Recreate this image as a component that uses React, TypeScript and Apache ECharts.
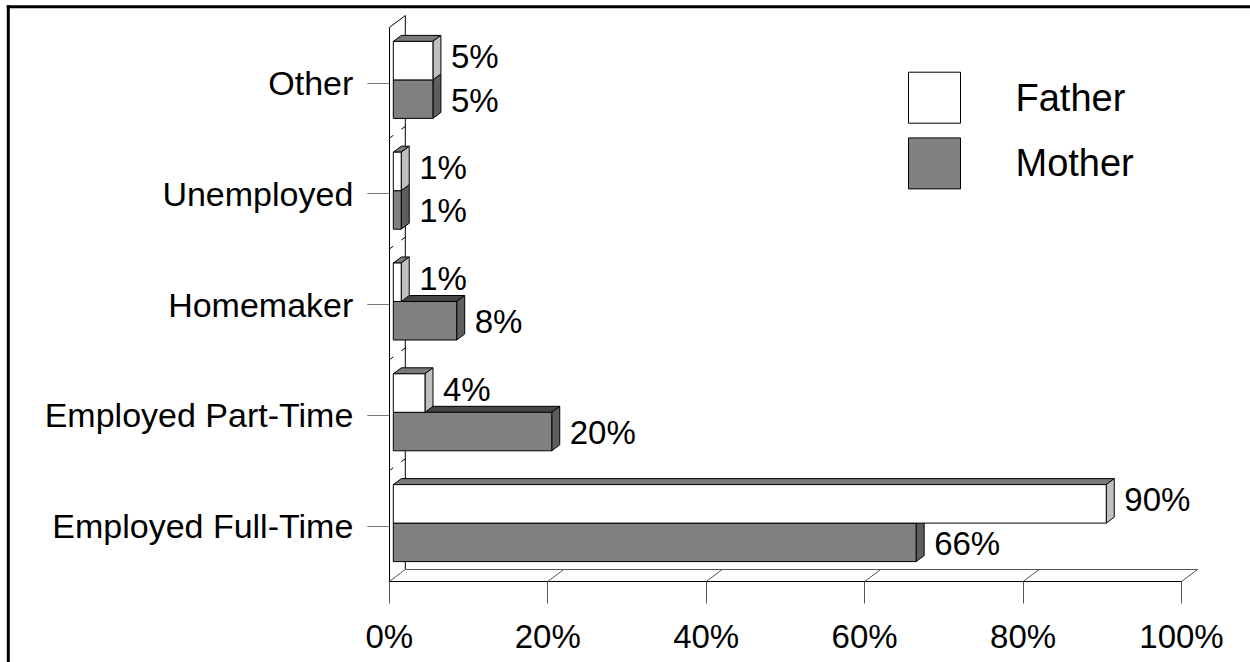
import React, { useEffect, useRef } from "react";
import * as echarts from "echarts";

const categories = ["Other", "Unemployed", "Homemaker", "Employed Part-Time", "Employed Full-Time"];
const fatherValues = [5, 1, 1, 4, 90];
const motherValues = [5, 1, 8, 20, 66];
const xTicks = [0, 20, 40, 60, 80, 100];

const FONT = "'Liberation Sans', Arial, sans-serif";
const DEPTH_X = 16;
const DEPTH_Y = -12;

function makeBarRenderer(front: string, topC: string, side: string, upper: boolean) {
  return (params: any, api: any) => {
    const v = api.value(0);
    const ci = api.value(1);
    const end = api.coord([v, ci]);
    const start = api.coord([0, ci]);
    const band = api.size([0, 1])[1];
    const h = band * 0.3475;
    const ox = DEPTH_X / 4;
    const oy = DEPTH_Y / 4;
    const dx = DEPTH_X / 2;
    const dy = DEPTH_Y / 2;
    const fx0 = start[0] + ox;
    const fx1 = end[0] + ox;
    const yc = end[1] + oy;
    const top = upper ? yc - h : yc;
    const bot = top + h;
    const stroke = { stroke: "#000", lineWidth: 1 };
    return {
      type: "group",
      children: [
        {
          type: "polygon",
          shape: { points: [[fx0, top], [fx1, top], [fx1 + dx, top + dy], [fx0 + dx, top + dy]] },
          style: { fill: topC, ...stroke },
        },
        {
          type: "polygon",
          shape: { points: [[fx1, top], [fx1 + dx, top + dy], [fx1 + dx, bot + dy], [fx1, bot]] },
          style: { fill: side, ...stroke },
        },
        {
          type: "rect",
          shape: { x: fx0, y: top, width: fx1 - fx0, height: h },
          style: { fill: front, ...stroke },
        },
        {
          type: "text",
          x: fx1 + dx + 10,
          y: (top + bot) / 2 + (upper ? -4 : 1),
          style: {
            text: v + "%",
            fill: "#000",
            fontSize: 33,
            fontFamily: FONT,
            textAlign: "left",
            textVerticalAlign: "middle",
          },
        },
      ],
    };
  };
}

const renderWalls = (params: any, api: any) => {
  const cs = params.coordSys;
  const bottom = cs.y + cs.height;
  const x = api.coord([api.value(0), 0])[0];
  const gray = { stroke: "#555", lineWidth: 1 };
  const black = { stroke: "#000", lineWidth: 1 };
  const children: any[] = [
    { type: "line", shape: { x1: x, y1: bottom, x2: x + DEPTH_X, y2: bottom + DEPTH_Y }, style: gray },
  ];
  if (params.dataIndex === 0) {
    const bx = cs.x + DEPTH_X;
    children.push(
      { type: "line", shape: { x1: bx, y1: cs.y + DEPTH_Y, x2: bx, y2: bottom + DEPTH_Y }, style: black },
      { type: "line", shape: { x1: cs.x, y1: cs.y, x2: bx, y2: cs.y + DEPTH_Y }, style: black },
      { type: "line", shape: { x1: bx, y1: bottom + DEPTH_Y, x2: cs.x + cs.width + DEPTH_X, y2: bottom + DEPTH_Y }, style: gray }
    );
    const band = cs.height / categories.length;
    for (let i = 1; i < categories.length; i++) {
      const yb = cs.y + band * i;
      children.push(
        { type: "line", shape: { x1: cs.x, y1: yb, x2: cs.x + 4, y2: yb - 3 }, style: black },
        { type: "line", shape: { x1: bx - 4, y1: yb + DEPTH_Y + 3, x2: bx, y2: yb + DEPTH_Y }, style: black }
      );
    }
  }
  return { type: "group", children };
};

export default function App() {
  const ref = useRef<HTMLDivElement>(null);
  useEffect(() => {
    if (!ref.current) return;
    const chart = echarts.init(ref.current, undefined, { renderer: "svg" });
    chart.setOption({
      animation: false,
      backgroundColor: "#fff",
      grid: { left: 389.3, top: 27.5, width: 792.2, height: 554, containLabel: false },
      xAxis: {
        type: "value",
        min: 0,
        max: 100,
        interval: 20,
        axisLine: { show: true, lineStyle: { color: "#000", width: 1 } },
        axisTick: { show: true, length: 22, lineStyle: { color: "#555" } },
        splitLine: { show: false },
        axisLabel: {
          formatter: "{value}%",
          fontSize: 33,
          fontFamily: FONT,
          color: "#000",
          margin: 38,
        },
      },
      yAxis: {
        type: "category",
        data: categories,
        inverse: true,
        axisLine: { show: true, lineStyle: { color: "#000", width: 1 } },
        axisTick: { show: true, length: 22, alignWithLabel: true, lineStyle: { color: "#777" } },
        splitLine: { show: false },
        axisLabel: { fontSize: 34, fontFamily: FONT, color: "#000", margin: 36 },
      },
      legend: {
        orient: "vertical",
        left: 908,
        top: 71.7,
        padding: 0,
        itemWidth: 52,
        itemHeight: 51,
        itemGap: 13.7,
        textStyle: { fontSize: 38, fontFamily: FONT, color: "#000", padding: [0, 0, 0, 50] },
        data: [
          { name: "Father", icon: "rect", itemStyle: { color: "#fff", borderColor: "#000", borderWidth: 1 } },
          { name: "Mother", icon: "rect", itemStyle: { color: "#808080", borderColor: "#000", borderWidth: 1 } },
        ],
      },
      graphic: [
        { type: "line", shape: { x1: 6.8, y1: 6.7, x2: 1250, y2: 6.7 }, style: { stroke: "#000", lineWidth: 3 } },
        { type: "line", shape: { x1: 8.3, y1: 5.2, x2: 8.3, y2: 662 }, style: { stroke: "#000", lineWidth: 3 } },
      ],
      series: [
        {
          type: "custom",
          name: "walls",
          clip: false,
          silent: true,
          renderItem: renderWalls,
          encode: { x: 0, y: 1 },
          data: xTicks.map((v) => [v, 0]),
          z: 1,
        },
        {
          type: "custom",
          name: "Mother",
          clip: false,
          renderItem: makeBarRenderer("#808080", "#454545", "#5e5e5e", false),
          itemStyle: { color: "#808080", borderColor: "#000" },
          encode: { x: 0, y: 1 },
          data: motherValues.map((v, i) => [v, i]),
          z: 2,
        },
        {
          type: "custom",
          name: "Father",
          clip: false,
          renderItem: makeBarRenderer("#ffffff", "#7a7a7a", "#c0c0c0", true),
          itemStyle: { color: "#fff", borderColor: "#000" },
          encode: { x: 0, y: 1 },
          data: fatherValues.map((v, i) => [v, i]),
          z: 3,
        },
      ],
    });
    return () => chart.dispose();
  }, []);
  return (
    <div
      ref={ref}
      style={{ position: "absolute", left: 0, top: 0, width: 1250, height: 662 }}
    />
  );
}
